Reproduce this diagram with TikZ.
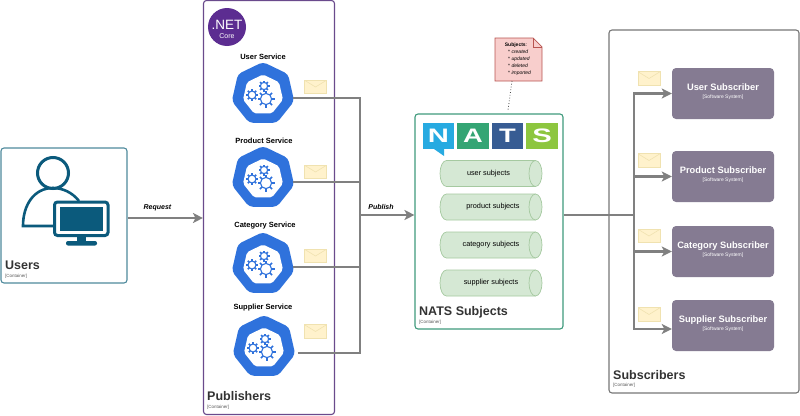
\documentclass[tikz,border=0pt]{standalone}
\usepackage{fontspec}
\setmainfont{Liberation Sans}
\usetikzlibrary{arrows.meta,shapes.geometric}
\definecolor{usercol}{HTML}{0B5A7C}
\definecolor{userline}{HTML}{4F8A9C}
\definecolor{publine}{HTML}{6A4A8C}
\definecolor{dotnet}{HTML}{5C2D91}
\definecolor{natsline}{HTML}{3F9A7C}
\definecolor{subline}{HTML}{777777}
\definecolor{kube}{HTML}{2F72DC}
\definecolor{flowcol}{HTML}{808080}
\definecolor{subfill}{HTML}{857B92}
\definecolor{envfill}{HTML}{FFF2CC}
\definecolor{envline}{HTML}{F0E2B0}
\definecolor{cylfill}{HTML}{D5E8D4}
\definecolor{cylline}{HTML}{A5C9A0}
\tikzset{
	container/.style={draw,fill=white,rounded corners=3pt,line width=1.1pt,minimum width=#1,inner sep=0pt},
	boxtitle/.style={anchor=west,inner sep=0pt,text=black!80,font=\fontsize{12.5}{14}\selectfont\bfseries},
	boxkind/.style={anchor=west,inner sep=0pt,text=black!65,font=\fontsize{4.5}{5}\selectfont},
	svclabel/.style={inner sep=0pt,font=\fontsize{7.5}{9}\selectfont\bfseries},
	hexa/.style={regular polygon,regular polygon sides=7,inner sep=0pt,rounded corners=#1},
	gearline/.style={draw=kube,line width=1.1pt},
	envelope/.style={draw=envline,fill=envfill,line width=0.7pt,minimum width=22,minimum height=13.5,inner sep=0pt,
		path picture={\draw[envline,line width=0.6pt] (path picture bounding box.north west) -- (path picture bounding box.center) -- (path picture bounding box.north east);}},
	flow/.style={draw=flowcol,line width=2.2pt},
	flowarrow/.style={flow,-{Stealth[length=10pt,width=10pt,inset=2.5pt]}},
	flowlabel/.style={inner sep=0pt,font=\fontsize{7}{8}\selectfont\bfseries\itshape},
	subjectlabel/.style={inner sep=0pt,font=\fontsize{7.3}{9}\selectfont},
	subscriber/.style={fill=subfill,rounded corners=4pt,minimum width=102,minimum height=51,inner sep=0pt},
	subscribertext/.style={inner sep=0pt,text=white,align=center,font=\fontsize{9.3}{11}\selectfont\bfseries},
	logoblock/.style={inner sep=0pt,minimum height=26,text=white,font=\fontsize{19.5}{20}\selectfont\bfseries},
}
\newcommand{\gearicon}[3]{
	\draw[gearline] (#1,#2) circle (#3*0.66);
	\foreach \a in {0,45,...,315}
		\draw[gearline,line width=1.6pt] ([shift={(\a:#3*0.66)}]#1,#2) -- ([shift={(\a:#3)}]#1,#2);
}
\newcommand{\svcicon}[3]{
	\node[hexa=4pt,fill=kube,minimum size=64] (#1) at (#2,#3) {};
	\node[hexa=2pt,fill=white,minimum size=41] (#1inner) at (#2,#3+1) {};
	\gearicon{#2+3}{#3+5}{8.5}
	\gearicon{#2-11}{#3+1}{6}
	\gearicon{#2+1}{#3-8}{5.5}
}
\newcommand{\subjcyl}[2]{
	\begin{scope}[shift={(#1,#2)}]
		\draw[draw=cylline,fill=cylfill,line width=0.7pt] (-44.5,-13) -- (44.5,-13) .. controls (48.1,-13) and (51,-7.2) .. (51,0) .. controls (51,7.2) and (48.1,13) .. (44.5,13) -- (-44.5,13) .. controls (-48.1,13) and (-51,7.2) .. (-51,0) .. controls (-51,-7.2) and (-48.1,-13) .. (-44.5,-13) -- cycle;
		\draw[draw=cylline,line width=0.7pt] (44.5,-13) .. controls (40.9,-13) and (38,-7.2) .. (38,0) .. controls (38,7.2) and (40.9,13) .. (44.5,13);
	\end{scope}
}
\newcommand{\boxsubtitle}{\fontsize{5}{6}\selectfont\mdseries [Software System]}
\begin{document}
\begin{tikzpicture}[x=1pt,y=-1pt]
	\useasboundingbox (0,0) rectangle (800,415);

	\node[container=126,draw=userline,minimum height=135] (users) at (64,215.5) {};
	\node[container=131,draw=publine,minimum height=414] (pubbox) at (269,207.5) {};
	\node[container=148,draw=natsline,minimum height=215] (nats) at (489,221.5) {};
	\node[container=190,draw=subline,minimum height=363] (subbox) at (704,211.5) {};

	\draw[usercol,line width=3pt] (53,173) circle (15.5);
	\draw[usercol,line width=2.6pt] (79,201) .. controls (72,192) and (62,188) .. (53,188) .. controls (34,188) and (23,205) .. (23,226) -- (53,226);
	\draw[usercol,fill=white,line width=3pt,rounded corners=3pt] (54.5,202) rectangle (108,235.5);
	\fill[usercol] (60,206.5) rectangle (103,231);
	\fill[usercol] (77,236) rectangle (86,242);
	\fill[usercol,rounded corners=2pt] (66,241) rectangle (97,245.5);
	\node[boxtitle] (userstitle) at (5,265) {Users};
	\node[boxkind] (userskind) at (5,276) {[Container]};

	\node[circle,fill=dotnet,minimum size=38,inner sep=0pt] (dotnetlogo) at (227,27) {};
	\node[text=white,inner sep=0pt,font=\fontsize{13.5}{14}\selectfont] (dotnetname) at (227,25) {.NET};
	\node[text=white,inner sep=0pt,font=\fontsize{7}{8}\selectfont] (dotnetcore) at (227,36) {Core};

	\node[svclabel] (usersvclabel) at (263,57) {User Service};
	\node[svclabel] (prodsvclabel) at (264,141) {Product Service};
	\node[svclabel] (catsvclabel) at (265,226) {Category Service};
	\node[svclabel] (supsvclabel) at (263,308) {Supplier Service};
	\svcicon{usersvc}{263}{94}
	\svcicon{prodsvc}{263}{178}
	\svcicon{catsvc}{263}{264}
	\svcicon{supsvc}{264}{347}

	\node[boxtitle] (pubtitle) at (207,396) {Publishers};
	\node[boxkind] (pubkind) at (207,407) {[Container]};

	\coordinate (pubbus) at (360,215);
	\draw[flow] ([yshift=-4pt]usersvc.east) -| (pubbus);
	\draw[flow] ([yshift=-4pt]prodsvc.east) -| (pubbus);
	\draw[flow] ([yshift=-3pt]catsvc.east) -| (pubbus);
	\draw[flow] ([xshift=4pt,yshift=-6pt]supsvc.east) -| (pubbus);
	\draw[flowarrow] (pubbus) -- (pubbus -| nats.west);
	\draw[flowarrow] (users.east |- 0,218) -- (pubbox.west |- 0,218);
	\node[flowlabel] (requestlabel) at (157.5,208) {Request};
	\node[flowlabel] (publishlabel) at (381,207) {Publish};

	\node[envelope] (penv1) at (315.5,87) {};
	\node[envelope] (penv2) at (315.5,172) {};
	\node[envelope] (penv3) at (315.5,256) {};
	\node[envelope] (penv4) at (315.5,331.5) {};

	\node[logoblock,minimum width=31,fill={rgb,255:red,39;green,170;blue,225}] (logon) at (438.5,136) {\scalebox{1.5}[1]{N}};
	\fill[fill={rgb,255:red,39;green,170;blue,225}] (434,149) -- (444,149) -- (444,156) -- cycle;
	\node[logoblock,minimum width=32,fill={rgb,255:red,52;green,165;blue,116}] (logoa) at (473,136) {\scalebox{1.4}[1]{A}};
	\node[logoblock,minimum width=31,fill={rgb,255:red,55;green,92;blue,147}] (logot) at (507.5,136) {\scalebox{1.4}[1]{T}};
	\node[logoblock,minimum width=32,fill={rgb,255:red,141;green,198;blue,63}] (logos) at (542,136) {\scalebox{1.5}[1]{S}};

	\subjcyl{491}{173.5}
	\subjcyl{491}{207}
	\subjcyl{491}{245}
	\subjcyl{491}{283}
	\node[subjectlabel] (usersubj) at (488.5,173.5) {user subjects};
	\node[subjectlabel] (prodsubj) at (493,207) {product subjects};
	\node[subjectlabel] (catsubj) at (491,245) {category subjects};
	\node[subjectlabel] (supsubj) at (491,283) {supplier subjects};
	\node[boxtitle] (natstitle) at (419,312) {NATS Subjects};
	\node[boxkind] (natskind) at (419,322) {[Container]};

	\draw[draw={rgb,255:red,184;green,84;blue,80},fill={rgb,255:red,248;green,206;blue,204},line width=0.7pt] (495,38) -- (533,38) -- (542,47) -- (542,81) -- (495,81) -- cycle;
	\draw[draw={rgb,255:red,184;green,84;blue,80},line width=0.7pt] (533,38) -- (533,47) -- (542,47);
	\node[inner sep=0pt,align=left,font=\fontsize{5}{7}\selectfont] (note) at (518,59.5) {\textbf{Subjects}:\\
		\hspace*{3.3pt}* \textit{created}\\
		\hspace*{3.3pt}* \textit{updated}\\
		\hspace*{3.3pt}* \textit{deleted}\\
		\hspace*{3.3pt}* \textit{imported}};
	\coordinate (notefoot) at (512,81);
	\coordinate (noteend) at (508,110);
	\draw[black!70,line width=0.8pt,dotted] (notefoot) -- (noteend);

	\node[subscriber] (usersub) at (723,93.5) {};
	\node[subscriber] (prodsub) at (723,176.5) {};
	\node[subscriber] (catsub) at (723,251.5) {};
	\node[subscriber] (supsub) at (723,325.5) {};
	\node[subscribertext] (usersublabel) at ([yshift=2pt]usersub.center) {User Subscriber\\[-2.5pt]\boxsubtitle};
	\node[subscribertext] (prodsublabel) at ([yshift=2pt]prodsub.center) {Product Subscriber\\[-2.5pt]\boxsubtitle};
	\node[subscribertext] (catsublabel) at ([yshift=2pt]catsub.center) {Category Subscriber\\[-2.5pt]\boxsubtitle};
	\node[subscribertext] (supsublabel) at ([yshift=2pt]supsub.center) {Supplier Subscriber\\[-2.5pt]\boxsubtitle};
	\node[boxtitle] (subtitle) at (613,375) {Subscribers};
	\node[boxkind] (subkind) at (613,385) {[Container]};

	\coordinate (subbus) at (634,215);
	\draw[flow] (subbus -| nats.east) -- (subbus);
	\draw[flowarrow] (subbus) |- (usersub.west);
	\draw[flowarrow] (subbus) |- (prodsub.west);
	\draw[flowarrow] (subbus) |- (catsub.west);
	\draw[flowarrow] (subbus) |- ([yshift=-3.5pt]supsub.west);

	\node[envelope] (senv1) at (649,78.5) {};
	\node[envelope] (senv2) at (649,160.5) {};
	\node[envelope] (senv3) at (649,236) {};
	\node[envelope] (senv4) at (649,314.5) {};
\end{tikzpicture}
\end{document}
